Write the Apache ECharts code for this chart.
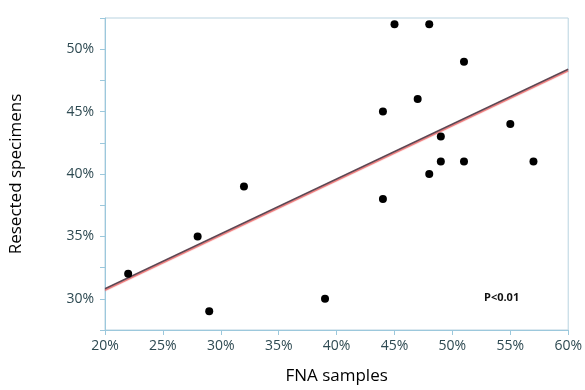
<!DOCTYPE html>
<html>
<head>
<meta charset="utf-8">
<script src="https://cdn.jsdelivr.net/npm/echarts@6/dist/echarts.min.js"></script>
<style>
html,body{margin:0;padding:0;background:#fff;}
#main{width:585px;height:390px;}
</style>
</head>
<body>
<div id="main"></div>
<script>
// FNA % vs resected %
var fnaX = [22, 28, 29, 32, 39, 44, 44, 45, 47, 48, 48, 49, 49, 51, 51, 55, 57];
var resY = [32, 35, 29, 39, 30, 45, 38, 52, 46, 52, 40, 43, 41, 49, 41, 44, 41];
// fit line (end points)
var fitX = [20, 60];
var fitY = [30.8, 48.4];

var points = fnaX.map(function(v, i){ return [v, resY[i]]; });
var fitLine = fitX.map(function(v, i){ return [v, fitY[i]]; });

var axisCol = '#9cc8dc';
var txtCol = '#2e4a52';

var myChart = echarts.init(document.getElementById('main'));
var option = {
    animation: false,
    grid: {
        left: 104, right: 16, top: 18, bottom: 57,
        show: true, borderColor: '#b9d3e0', borderWidth: 1
    },
    xAxis: {
        type: 'value', min: 20, max: 60, interval: 5,
        name: 'FNA samples', nameLocation: 'middle', nameGap: 38,
        nameTextStyle: { fontFamily: 'Open Sans', fontSize: 17, color: '#000' },
        axisLine: { lineStyle: { color: axisCol } },
        axisTick: { show: true, length: 5, lineStyle: { color: axisCol } },
        splitLine: { show: false },
        axisLabel: { formatter: '{value}%', fontFamily: 'Open Sans', fontSize: 14, color: txtCol, margin: 9 }
    },
    yAxis: {
        type: 'value', min: 27.5, max: 52.5, interval: 2.5,
        name: 'Resected specimens', nameLocation: 'middle', nameGap: 80,
        nameTextStyle: { fontFamily: 'Open Sans', fontSize: 17, color: '#000' },
        axisLine: { show: true, lineStyle: { color: axisCol } },
        axisTick: { show: true, length: 5, lineStyle: { color: axisCol } },
        splitLine: { show: false },
        axisLabel: {
            fontFamily: 'Open Sans', fontSize: 14, color: txtCol, margin: 11,
            formatter: function(v){ return v % 5 === 0 ? v + '%' : ''; }
        }
    },
    series: [
        {
            type: 'line',
            data: fitLine,
            symbol: 'none',
            lineStyle: {
                color: '#5e4652', width: 1.6,
                shadowColor: 'rgba(235,90,90,0.9)', shadowOffsetY: 1.5, shadowBlur: 1
            },
            z: 2
        },
        {
            type: 'scatter',
            data: points,
            symbolSize: 8,
            itemStyle: { color: '#000', opacity: 1 },
            z: 3
        }
    ],
    graphic: [{
        type: 'text',
        left: 484, top: 292,
        style: { text: 'P<0.01', font: 'bold 11px "Open Sans"', fill: '#111' }
    }]
};
myChart.setOption(option);
</script>
</body>
</html>
